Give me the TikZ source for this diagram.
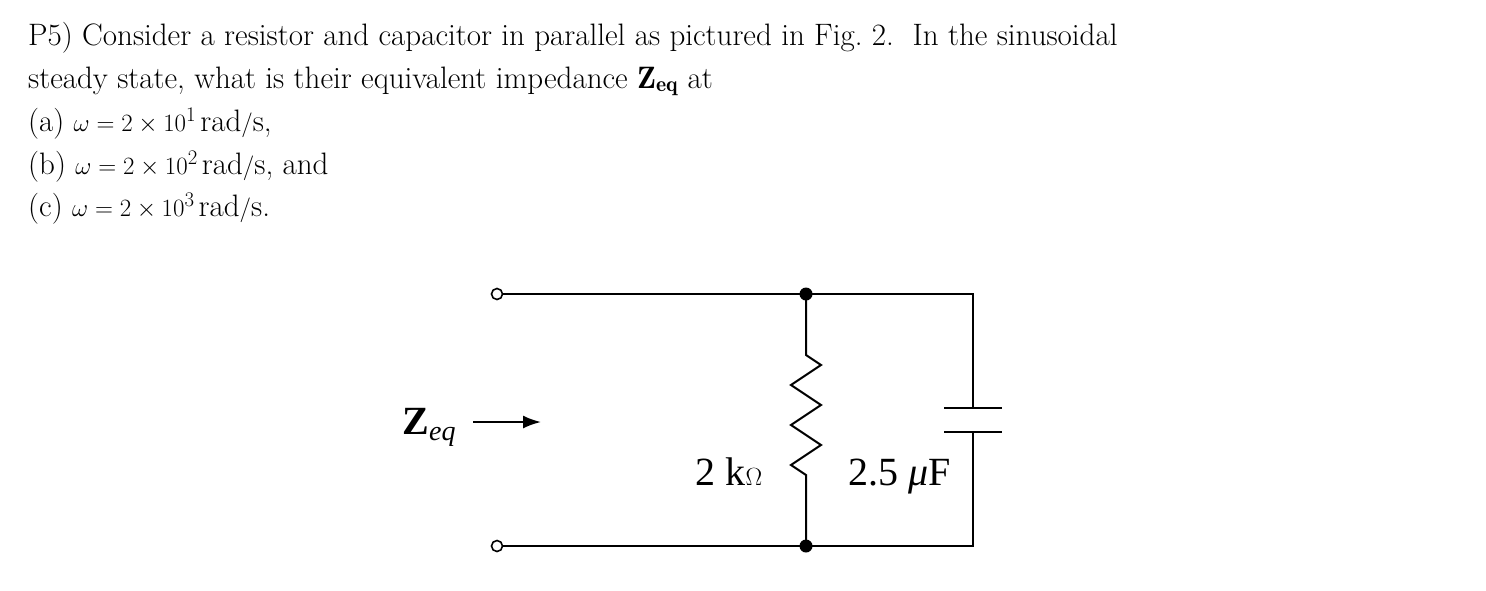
\documentclass[tikz,border=0pt]{standalone}
\usepackage{fontspec}
\usetikzlibrary{arrows.meta}
\newfontfamily\tms{Liberation Serif}
\begin{document}
\begin{tikzpicture}[x=1pt,y=-1pt,
  wire/.style={line width=2pt},
  term/.style={circle,draw,line width=1.6pt,fill=white,inner sep=0pt,minimum size=11pt},
  dot/.style={circle,fill,inner sep=0pt,minimum size=13pt},
  txt/.style={anchor=base west,inner sep=0pt,font=\fontsize{31}{43}\selectfont},
  lab/.style={inner sep=0pt,font=\tms\fontsize{40}{44}\selectfont}]
\useasboundingbox (0,0) rectangle (1486,590);
\node[txt] (l1) at (28,45) {P5) Consider a resistor and capacitor in parallel as pictured in Fig.~2.\ \ In the sinusoidal};
\node[txt] (l2) at (28,88) {steady state, what is their equivalent impedance $\mathbf{Z_{eq}}$ at};
\node[txt] (l3) at (28,131) {(a) $\omega=2\times10^1\,\mathrm{rad/s}$,};
\node[txt] (l4) at (28,174) {(b) $\omega=2\times10^2\,\mathrm{rad/s}$, and};
\node[txt] (l5) at (28,216) {(c) $\omega=2\times10^3\,\mathrm{rad/s}$.};
% nodes
\coordinate (tl) at (497,294);
\coordinate (bl) at (497,546);
\coordinate (jt) at (806,294);
\coordinate (jb) at (806,546);
\coordinate (rt) at (973,294);
\coordinate (rb) at (973,546);
\coordinate (r1) at (806,355);
\coordinate (r2) at (806,500);
\coordinate (c1) at (973,408);
\coordinate (c2) at (973,432);
\draw[wire] (tl) -- (jt) -- (rt) -- (c1);
\draw[wire] (bl) -- (jb) -- (rb) -- (c2);
\draw[wire] (jt) -- (r1) -- ++(15,10) -- ++(-30,20) -- ++(30,20) -- ++(-30,20) -- ++(30,20) -- ++(-30,20) -- ++(15,10) -- (r2) -- (jb);
\draw[wire] (944,408) -- (1002,408);
\draw[wire] (944,432) -- (1002,432);
\node[term] (a) at (tl) {};
\node[term] (b) at (bl) {};
\node[dot] (d1) at (jt) {};
\node[dot] (d2) at (jb) {};
\node[lab,anchor=base] (zr) at (729,485) {2 k$\Omega$};
\node[lab,anchor=base] (zc) at (900,485) {2.5 \textit{μ}F};
\node[lab,anchor=base] (zeq) at (429,434) {\textbf{Z}\textit{\fontsize{28}{30}\selectfont\raisebox{-6pt}{eq}}};
\coordinate (a1) at (473,422);
\coordinate (a2) at (541,422);
\draw[line width=2pt,-{Latex[length=18pt,width=13pt]}] (a1) -- (a2);
\end{tikzpicture}
\end{document}
